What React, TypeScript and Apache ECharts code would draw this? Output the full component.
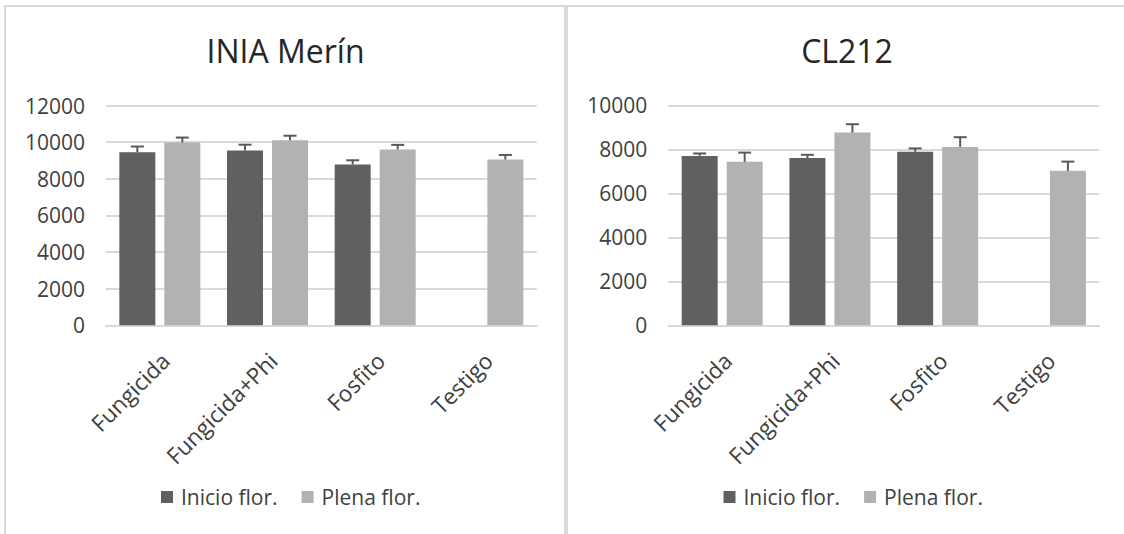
import { useEffect, useRef } from 'react';
import * as echarts from 'echarts';

const categories = ['Fungicida', 'Fungicida+Phi', 'Fosfito', 'Testigo'];
const seriesNames = ['Inicio flor.', 'Plena flor.'];
const titles = ['INIA Merín', 'CL212'];

const merinInicio = [9450, 9550, 8780, null];
const merinInicioErr = [310, 310, 230, null];
const merinPlena = [9980, 10100, 9600, 9050];
const merinPlenaErr = [270, 250, 250, 250];

const clInicio = [7700, 7600, 7890, null];
const clInicioErr = [110, 150, 150, null];
const clPlena = [7430, 8760, 8110, 7020];
const clPlenaErr = [420, 380, 440, 420];

const yMax = [12000, 10000];
const yInterval = 2000;

const DARK = '#606060';
const LIGHT = '#b2b2b2';
const ERR = '#595959';
const GRIDC = '#d9d9d9';
const TXT = '#404040';
const FONT = '"Open Sans", sans-serif';
const BAR_W = 36;
const BAR_GAP_PX = 9;

function errData(vals: (number | null)[], errs: (number | null)[]) {
  const out: number[][] = [];
  vals.forEach((v, i) => {
    if (v != null && errs[i] != null) out.push([i, v, errs[i] as number]);
  });
  return out;
}

function errSeries(idx: number, data: number[][], offset: number) {
  return {
    type: 'custom',
    name: 'err' + idx + offset,
    xAxisIndex: idx,
    yAxisIndex: idx,
    z: 5,
    encode: { x: 0, y: 1 },
    data,
    renderItem: (params: any, api: any) => {
      const x = api.value(0);
      const y = api.value(1);
      const e = api.value(2);
      const base = api.coord([x, y]);
      const top = api.coord([x, y + e]);
      const cx = base[0] + offset;
      return {
        type: 'group',
        children: [
          { type: 'line', shape: { x1: cx, y1: base[1], x2: cx, y2: top[1] }, style: { stroke: ERR, lineWidth: 2 } },
          { type: 'line', shape: { x1: cx - 6.5, y1: top[1], x2: cx + 6.5, y2: top[1] }, style: { stroke: ERR, lineWidth: 2 } },
        ],
      };
    },
  };
}

export default function App() {
  const ref = useRef<HTMLDivElement>(null);
  useEffect(() => {
    if (!ref.current) return;
    const chart = echarts.init(ref.current, undefined, { renderer: 'svg' });
    const off = BAR_W / 2 + BAR_GAP_PX / 2;
    const grids = [
      { left: 106, top: 105.5, width: 430.7, height: 219.8 },
      { left: 668.3, top: 105.3, width: 431, height: 220 },
    ];
    const xAxes = grids.map((_, i) => ({
      type: 'category',
      gridIndex: i,
      data: categories,
      axisTick: { show: false },
      axisLine: { lineStyle: { color: GRIDC, width: 2 } },
      axisLabel: {
        rotate: 45,
        interval: 0,
        fontSize: 22.5,
        fontFamily: FONT,
        color: TXT,
        margin: 37,
        padding: [0, -8, 0, 0],
      },
    }));
    const yAxes = grids.map((_, i) => ({
      type: 'value',
      gridIndex: i,
      min: 0,
      max: yMax[i],
      interval: yInterval,
      axisLine: { show: false },
      axisTick: { show: false },
      axisLabel: {
        fontSize: 21,
        fontFamily: FONT,
        color: TXT,
        margin: 21,
        formatter: (v: number) => String(v),
      },
      splitLine: { lineStyle: { color: GRIDC, width: 2 } },
    }));
    const sets = [
      [merinInicio, merinInicioErr, merinPlena, merinPlenaErr],
      [clInicio, clInicioErr, clPlena, clPlenaErr],
    ];
    const series: any[] = [];
    sets.forEach((s, i) => {
      series.push({
        type: 'bar', name: seriesNames[0], xAxisIndex: i, yAxisIndex: i,
        data: s[0], barWidth: BAR_W, barGap: '25%', itemStyle: { color: DARK },
      });
      series.push({
        type: 'bar', name: seriesNames[1], xAxisIndex: i, yAxisIndex: i,
        data: s[2], barWidth: BAR_W, barGap: '25%', itemStyle: { color: LIGHT },
      });
      series.push(errSeries(i, errData(s[0] as any, s[1] as any), -off));
      series.push(errSeries(i, errData(s[2] as any, s[3] as any), off));
    });
    const legendLefts = [161, 723.5];
    chart.setOption({
      animation: false,
      backgroundColor: '#ffffff',
      grid: grids,
      xAxis: xAxes,
      yAxis: yAxes,
      legend: legendLefts.map((l) => ({
        left: l,
        top: 486.5,
        padding: 0,
        data: seriesNames,
        icon: 'rect',
        itemWidth: 12,
        itemHeight: 12,
        itemGap: 24,
        selectedMode: false,
        textStyle: { fontSize: 21, fontFamily: FONT, color: TXT, padding: [0, 0, 0, 3] },
      })),
      series,
      graphic: [
        { type: 'rect', shape: { x: 5, y: 6, width: 560, height: 600 }, style: { fill: 'none', stroke: GRIDC, lineWidth: 2 } },
        { type: 'rect', shape: { x: 567, y: 6, width: 600, height: 600 }, style: { fill: 'none', stroke: GRIDC, lineWidth: 2 } },
        { type: 'text', x: 285.5, y: 50.8, style: { text: titles[0], align: 'center', verticalAlign: 'middle', fontSize: 32, fontFamily: FONT, fill: '#262626' } },
        { type: 'text', x: 847, y: 50.8, style: { text: titles[1], align: 'center', verticalAlign: 'middle', fontSize: 32, fontFamily: FONT, fill: '#262626' } },
      ],
    });
    return () => chart.dispose();
  }, []);
  return (
    <div
      ref={ref}
      style={{ position: 'fixed', left: 0, top: 0, width: 1124, height: 534, background: '#fff' }}
    />
  );
}
